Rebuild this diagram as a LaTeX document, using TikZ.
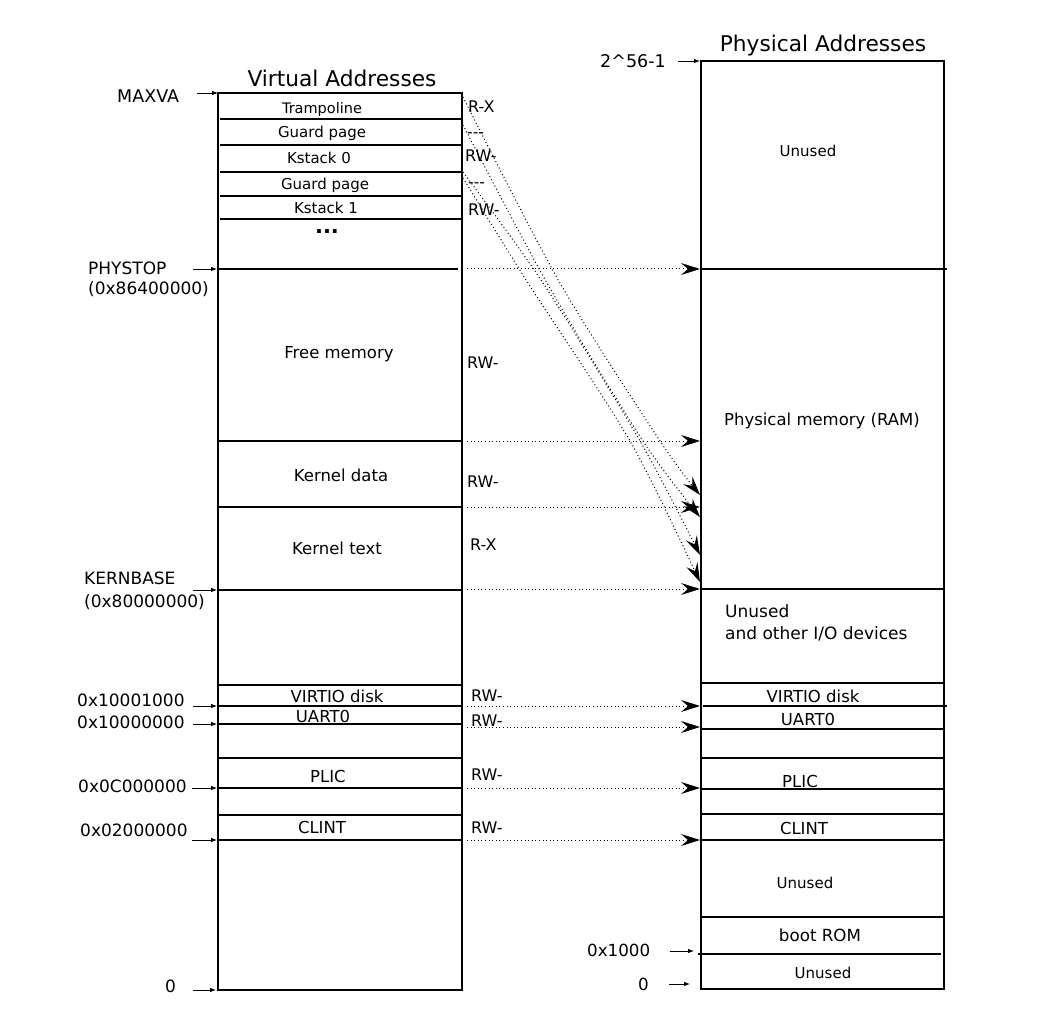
\documentclass[tikz,border=0pt]{standalone}
\usepackage{fontspec}
\setmainfont{DejaVu Sans}
\usetikzlibrary{arrows.meta}
\tikzset{
  box/.style={line width=1.6pt},
  sep/.style={line width=1.1pt},
  txt/.style={inner sep=0pt, anchor=base, font=\fontsize{16.5}{16.5}\selectfont},
  txtw/.style={inner sep=0pt, anchor=base west, font=\fontsize{17}{17}\selectfont},
  sm/.style={inner sep=0pt, anchor=base, font=\fontsize{15}{15}\selectfont},
  perm/.style={inner sep=0pt, anchor=base west, font=\fontsize{16}{16}\selectfont},
  title/.style={inner sep=0pt, anchor=base, font=\fontsize{21.7}{21.7}\selectfont},
  tick/.style={line width=0.8pt, -{Latex[length=6pt,width=4.5pt]}},
  maparrow/.style={line width=1pt, dash pattern=on 1pt off 2.6pt, -{Stealth[length=19pt,width=12pt,inset=7pt]}},
}
\begin{document}
\begin{tikzpicture}[x=1pt,y=-1pt]
\useasboundingbox (0,0) rectangle (1050,1024);

% ---------- virtual address space ----------
\coordinate (vTL) at (218,93);
\coordinate (vBR) at (462,990);
\draw[box] (vTL) rectangle (vBR);
\foreach \y in {119,145,172,196,219} \draw[sep] (220,\y) -- (462,\y);
\draw[sep] (218,269) -- (458,269);
\foreach \y in {441,507,590,685,706,724,758,788,815,840} \draw[sep] (218,\y) -- (462,\y);

\node[title] (vtitle) at (342,87) {Virtual Addresses};

\node[sm, font=\fontsize{14.5}{14.5}\selectfont] (tramp) at (322,114) {Trampoline};
\node[sm] (guard0) at (322,138) {Guard page};
\node[sm] (kst0) at (319,164) {Kstack 0};
\node[sm] (guard1) at (325,190) {Guard page};
\node[sm] (kst1) at (326,214) {Kstack 1};
\node[txt, font=\fontsize{21}{21}\selectfont\bfseries, text height=5pt, text depth=0pt] (dots) at (327,234) {...};
\node[txt] (free) at (339,359) {Free memory};
\node[txt] (kdata) at (341,481) {Kernel data};
\node[txt] (ktext) at (337,554) {Kernel text};
\node[txt] (vvirtio) at (337,702) {VIRTIO disk};
\node[txt] (vuart) at (323,722) {UART0};
\node[txt] (vplic) at (328,782) {PLIC};
\node[txt] (vclint) at (322,833) {CLINT};

% permissions
\node[perm] (p1) at (468,113) {R-X};
\node[perm, font=\fontsize{15.5}{15.5}\selectfont] (p2) at (467,138) {-{}-{}-};
\node[perm] (p3) at (465,162) {RW-};
\node[perm, font=\fontsize{15.5}{15.5}\selectfont] (p4) at (468,188) {-{}-{}-};
\node[perm] (p5) at (468,216) {RW-};
\node[perm] (p6) at (467,369) {RW-};
\node[perm] (p7) at (467,487) {RW-};
\node[perm] (p8) at (470,550) {R-X};
\node[perm] (p9) at (471,701) {RW-};
\node[perm] (p10) at (471,726) {RW-};
\node[perm] (p11) at (471,780) {RW-};
\node[perm] (p12) at (471,833) {RW-};

% left address labels
\node[txtw, font=\fontsize{17.5}{17.5}\selectfont] (maxva) at (117,103) {MAXVA};
\node[txtw] (phystop) at (88,275) {PHYSTOP};
\node[txtw] (phystopv) at (88,295) {(0x86400000)};
\node[txtw] (kernbase) at (84,584) {KERNBASE};
\node[txtw] (kernbasev) at (84,607) {(0x80000000)};
\node[txtw] (a1) at (77,706) {0x10001000};
\node[txtw] (a2) at (77,728) {0x10000000};
\node[txtw] (a3) at (78,792) {0x0C000000};
\node[txtw] (a4) at (80,836) {0x02000000};
\node[txtw] (a5) at (165,992) {0};

\coordinate (tmaxS) at (197,93);   \coordinate (tmaxE) at (218,93);
\coordinate (tphyS) at (193,269);  \coordinate (tphyE) at (217,269);
\coordinate (tkerS) at (193,590);  \coordinate (tkerE) at (217,590);
\coordinate (ta1S) at (193,706);   \coordinate (ta1E) at (217,706);
\coordinate (ta2S) at (193,724);   \coordinate (ta2E) at (217,724);
\coordinate (ta3S) at (192,788);   \coordinate (ta3E) at (217,788);
\coordinate (ta4S) at (192,840);   \coordinate (ta4E) at (217,840);
\coordinate (ta5S) at (193,990);   \coordinate (ta5E) at (216,990);
\draw[tick] (tmaxS) -- (tmaxE);
\draw[tick] (tphyS) -- (tphyE);
\draw[tick] (tkerS) -- (tkerE);
\draw[tick] (ta1S) -- (ta1E);
\draw[tick] (ta2S) -- (ta2E);
\draw[tick] (ta3S) -- (ta3E);
\draw[tick] (ta4S) -- (ta4E);
\draw[tick] (ta5S) -- (ta5E);

% ---------- physical address space ----------
\coordinate (pTL) at (701,61);
\coordinate (pBR) at (944,989);
\draw[box] (pTL) rectangle (pBR);
\draw[sep] (701,269) -- (947,269);
\foreach \y in {589,683,729,758,789,814,840,917} \draw[sep] (701,\y) -- (944,\y);
\draw[sep] (703,706) -- (947,706);
\draw[sep] (698,954) -- (941,954);

\node[title] (ptitle) at (823,52) {Physical Addresses};
\node[sm] (punused1) at (808,157) {Unused};
\node[txt, font=\fontsize{16.5}{16.5}\selectfont] (pram) at (822,425) {Physical memory (RAM)};
\node[txtw] (pio1) at (725,617) {Unused};
\node[txtw] (pio2) at (725,639) {and other I/O devices};
\node[txt] (pvirtio) at (813,702) {VIRTIO disk};
\node[txt] (puart) at (808,725) {UART0};
\node[txt] (pplic) at (800,787) {PLIC};
\node[txt] (pclint) at (804,834) {CLINT};
\node[sm] (punused2) at (805,888) {Unused};
\node[txt, font=\fontsize{16.7}{16.7}\selectfont] (pboot) at (820,941) {boot ROM};
\node[sm] (punused3) at (823,978) {Unused};

\node[txtw, font=\fontsize{17.5}{17.5}\selectfont] (ptop) at (600,68) {2\textasciicircum 56-1};
\node[txtw, font=\fontsize{16.7}{16.7}\selectfont] (p1000) at (587,956) {0x1000};
\node[txtw, font=\fontsize{16.7}{16.7}\selectfont] (pzero) at (638,990) {0};

\coordinate (tptS) at (678,61);   \coordinate (tptE) at (700,61);
\coordinate (tp1S) at (670,951);  \coordinate (tp1E) at (694,951);
\coordinate (tp0S) at (669,984);  \coordinate (tp0E) at (690,984);
\draw[tick] (tptS) -- (tptE);
\draw[tick] (tp1S) -- (tp1E);
\draw[tick] (tp0S) -- (tp0E);

% ---------- mappings ----------
\foreach \y [count=\i] in {269,441,507,589,706,727,788,840} {
  \coordinate (mS\i) at (467,\y);
  \coordinate (mE\i) at (700,\y);
  \draw[maparrow] (mS\i) -- (mE\i);
}
\coordinate (d1a) at (463,97);  \coordinate (d1b) at (560,283); \coordinate (d1c) at (660,441); \coordinate (d1d) at (700,495);
\coordinate (d2a) at (463,125); \coordinate (d2b) at (547,283); \coordinate (d2c) at (643,441); \coordinate (d2d) at (700,517);
\coordinate (d3a) at (463,172); \coordinate (d3b) at (543,283); \coordinate (d3c) at (640,441); \coordinate (d3d) at (700,555);
\coordinate (d4a) at (463,178); \coordinate (d4b) at (528,283); \coordinate (d4c) at (630,441); \coordinate (d4d) at (700,582);
\draw[maparrow] plot[smooth] coordinates {(d1a) (d1b) (d1c) (d1d)};
\draw[maparrow] plot[smooth] coordinates {(d2a) (d2b) (d2c) (d2d)};
\draw[maparrow] plot[smooth] coordinates {(d3a) (d3b) (d3c) (d3d)};
\draw[maparrow] plot[smooth] coordinates {(d4a) (d4b) (d4c) (d4d)};
\end{tikzpicture}
\end{document}
